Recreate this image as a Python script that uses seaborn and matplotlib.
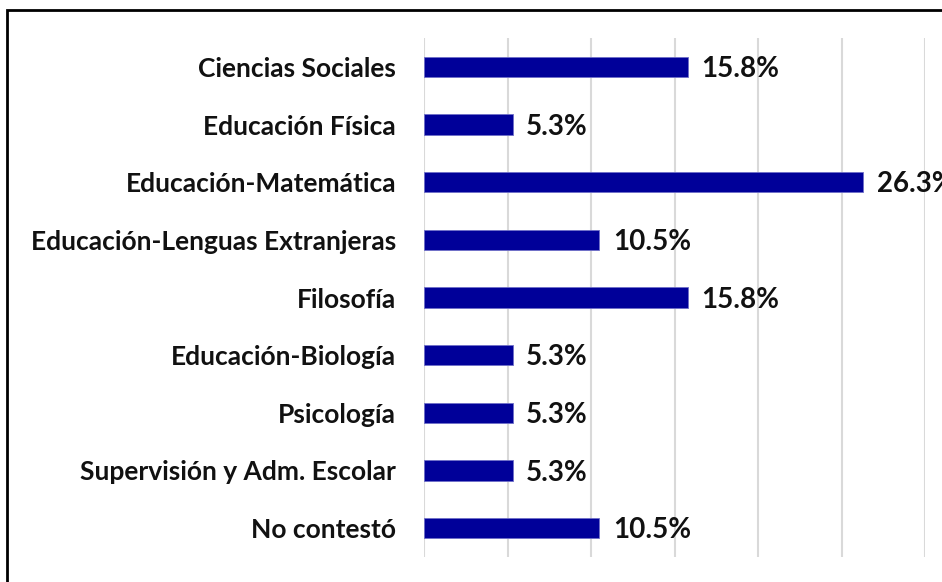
import matplotlib
matplotlib.use("Agg")
import matplotlib.pyplot as plt
import seaborn as sns
import pandas as pd
from matplotlib.patches import Rectangle

categories = ["Ciencias Sociales", "Educación Física", "Educación-Matemática",
              "Educación-Lenguas Extranjeras", "Filosofía", "Educación-Biología",
              "Psicología", "Supervisión y Adm. Escolar", "No contestó"]
values = [15.8, 5.3, 26.3, 10.5, 15.8, 5.3, 5.3, 5.3, 10.5]
xticks = [0, 5, 10, 15, 20, 25, 30]

df = pd.DataFrame({"cat": categories, "val": values})

sns.set_theme(style="white")
plt.rcParams['font.family'] = ['Lato', 'DejaVu Sans']

fig = plt.figure(figsize=(9.42, 5.82), dpi=100)
ax = fig.add_axes([424/942, 1-557/582, (925-424)/942, (557-38)/582])

sns.barplot(data=df, x="val", y="cat", orient="h", color="#000099",
            width=0.35, saturation=1, ax=ax, edgecolor="#6f6fc8", linewidth=0.6)

ax.set_xlim(0, 30)
ax.set_ylim(8.5, -0.5)
ax.set_xticks(xticks)
ax.set_xticklabels([])
ax.tick_params(axis="x", length=0)
ax.tick_params(axis="y", length=0, pad=20)
ax.grid(axis="x", color="#d9d9d9", linewidth=1.5)
ax.set_axisbelow(True)
for s in ax.spines.values():
    s.set_visible(False)
ax.set_xlabel("")
ax.set_ylabel("")
for lbl in ax.get_yticklabels():
    lbl.set_fontsize(19)
    lbl.set_fontweight("bold")
    lbl.set_color("#111111")

for i, v in enumerate(values):
    ax.text(v + 0.8, i + 0.04, f"{v:.1f}%", va="center", ha="left", fontsize=20,
            fontweight="bold", color="#111111", clip_on=False)

fig.patches.append(Rectangle((7/942, -0.1), 1.2, 1 - 10/582 + 0.1,
                             transform=fig.transFigure, fill=False,
                             edgecolor="black", linewidth=2))

fig.savefig("out.png", dpi=100)
